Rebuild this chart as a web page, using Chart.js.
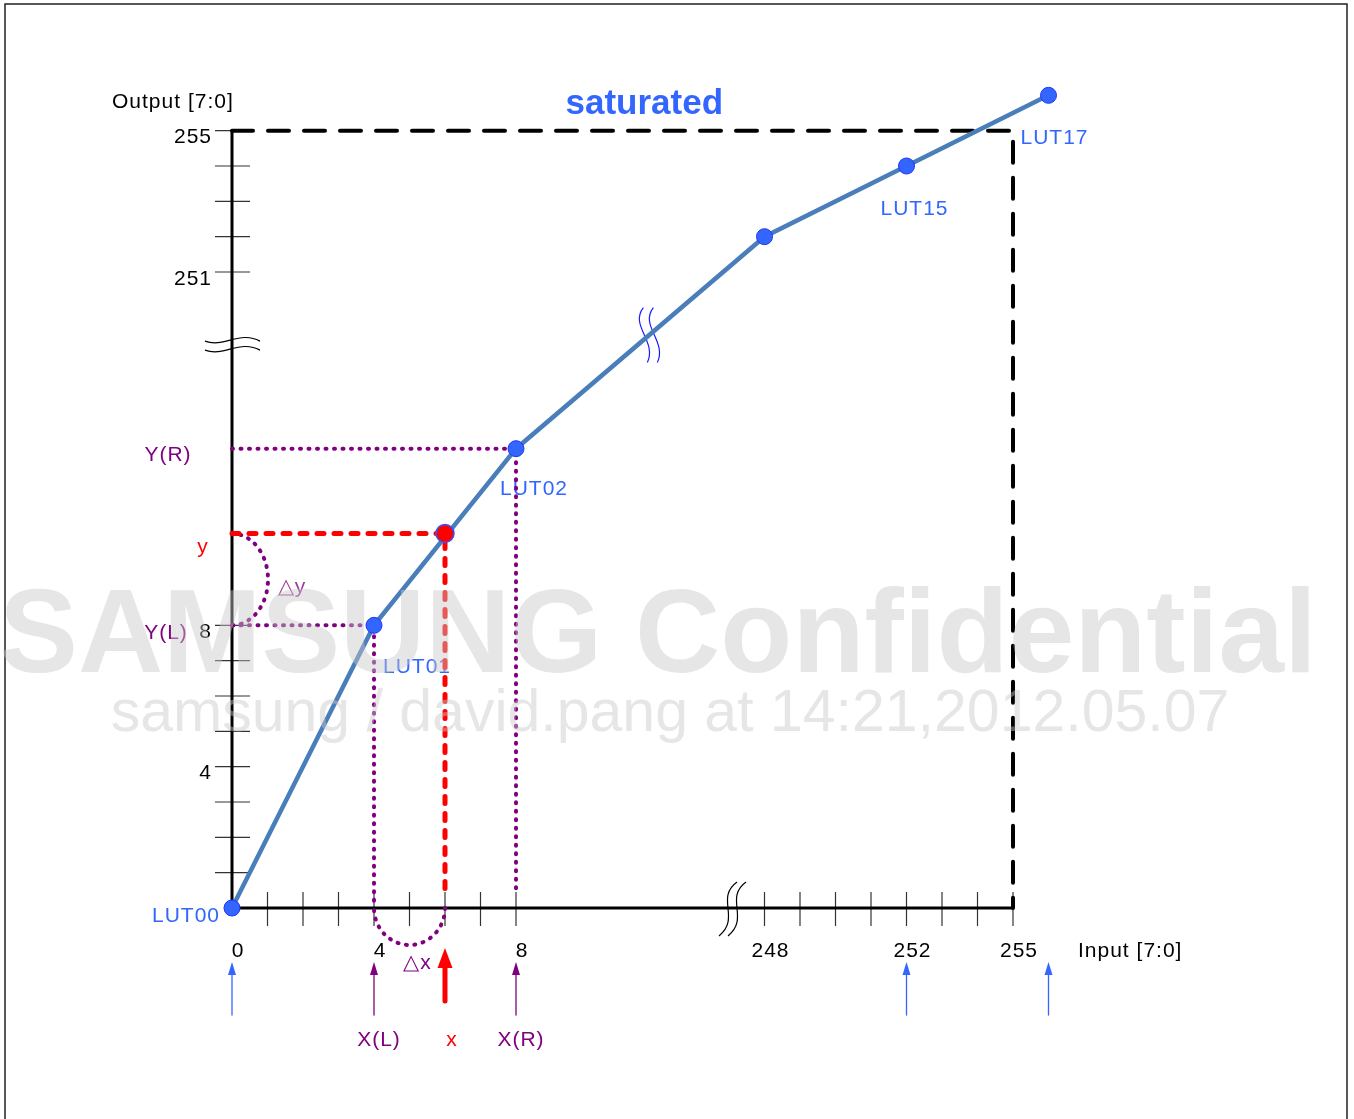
<!DOCTYPE html>
<html>
<head>
<meta charset="utf-8">
<script src="https://cdn.jsdelivr.net/npm/chart.js@4"></script>
<style>
  html, body { margin: 0; padding: 0; background: #fff; overflow: hidden; }
  #wrap { position: relative; width: 1354px; height: 1119px; }
</style>
</head>
<body>
<div id="wrap"><canvas id="chart1"></canvas></div>
<script>
// LUT knots (input code -> output code)
const lutInputs  = [0, 4, 8, 248, 252, 256];
const lutOutputs = [0, 8, 13, 252, 254, 256];
const lutNames   = ['LUT00', 'LUT01', 'LUT02', '', 'LUT15', 'LUT17'];

// the sample x that gets interpolated between LUT01 and LUT02
const sampleInput  = [6];
const sampleOutput = [10.6];

// saturation box corners
const satBoxInputs  = [0, 255, 255];
const satBoxOutputs = [255, 255, 0];

// axis ticks
const xTickValues = [1, 2, 3, 4, 5, 6, 7, 8, 248, 249, 250, 251, 252, 253, 254, 255];
const xTickLabels = [0, 4, 8, 248, 252, 255];
const yTickValues = [1, 2, 3, 4, 5, 6, 7, 8, 251, 252, 253, 254, 255];
const yTickLabels = [4, 8, 251, 255];

// arrows under the input axis
const blueArrowInputs   = [0, 252, 256];
const purpleArrowInputs = [4, 8];

// broken axes: codes above 100 are shifted down so both ends fit
const slot = v => (v > 100 ? v - 233 : v);
const toPts = (xs, ys) => xs.map((v, i) => ({ x: slot(v), y: slot(ys[i]) }));

const FONT = '"Liberation Sans", Arial, sans-serif';
const BLUE = '#3366ff', PURPLE = '#800080', RED = '#ff0000';
const DOTS = [1, 7.5];

// label offsets for LUT names [dx, dy, align]
const lutLabelPos = [[-12, 8, 'right'], [9, 42, 'left'], [-16, 41, 'left'], null, [-26, 43, 'left'], [-28, 43, 'left']];

function txt(ctx, s, x, y, color, align, font, spacing) {
  ctx.font = font || ('21px ' + FONT);
  ctx.letterSpacing = spacing || '1px';
  ctx.fillStyle = color;
  ctx.textAlign = align || 'center';
  ctx.textBaseline = 'middle';
  ctx.fillText(s, x, y);
}

function arrow(ctx, x, tip, bottom, color, w, headW, headL) {
  ctx.strokeStyle = color;
  ctx.fillStyle = color;
  ctx.lineWidth = w;
  ctx.setLineDash([]);
  ctx.beginPath();
  ctx.moveTo(x, bottom);
  ctx.lineTo(x, tip + headL - 1);
  ctx.stroke();
  ctx.beginPath();
  ctx.moveTo(x, tip);
  ctx.lineTo(x - headW / 2, tip + headL);
  ctx.lineTo(x + headW / 2, tip + headL);
  ctx.closePath();
  ctx.fill();
}

const decor = {
  id: 'decor',
  beforeDatasetsDraw(chart) {
    const ctx = chart.ctx;
    const sx = chart.scales.x, sy = chart.scales.y;
    const X = v => sx.getPixelForValue(slot(v));
    const Y = v => sy.getPixelForValue(slot(v));
    const X0 = X(0), Y0 = Y(0);
    ctx.save();

    // outer frame
    ctx.strokeStyle = '#222';
    ctx.lineWidth = 1.5;
    ctx.strokeRect(5, 4, 1342, 1130);

    // ticks
    ctx.strokeStyle = '#333';
    ctx.lineWidth = 1.2;
    xTickValues.forEach(v => {
      ctx.beginPath(); ctx.moveTo(X(v), Y0 - 16); ctx.lineTo(X(v), Y0 + 18); ctx.stroke();
    });
    yTickValues.forEach(v => {
      ctx.beginPath(); ctx.moveTo(X0 - 17, Y(v)); ctx.lineTo(X0 + 18, Y(v)); ctx.stroke();
    });

    // axes
    ctx.strokeStyle = '#000';
    ctx.lineWidth = 3;
    ctx.beginPath();
    ctx.moveTo(X0, Y(255)); ctx.lineTo(X0, Y0); ctx.lineTo(X(255), Y0);
    ctx.stroke();

    // axis break marks
    ctx.lineWidth = 1.2;
    const yb = sy.getPixelForValue(16.1);
    [0, 9].forEach(o => {
      ctx.beginPath();
      ctx.moveTo(X0 - 27, yb + o + 2);
      ctx.bezierCurveTo(X0 - 8, yb + o + 9, X0 + 8, yb + o - 9, X0 + 28, yb + o + 2);
      ctx.stroke();
    });
    const xb = sx.getPixelForValue(14.0);
    [0, 9].forEach(o => {
      ctx.beginPath();
      ctx.moveTo(xb + o + 8, Y0 - 26);
      ctx.bezierCurveTo(xb + o - 14, Y0 - 10, xb + o + 12, Y0 + 10, xb + o - 10, Y0 + 28);
      ctx.stroke();
    });
    // break on the curve
    ctx.strokeStyle = '#1a1aff';
    const cx = sx.getPixelForValue(11.7), cy = sy.getPixelForValue(16.2);
    [0, 10].forEach(o => {
      ctx.beginPath();
      ctx.moveTo(cx + o - 4, cy - 28);
      ctx.bezierCurveTo(cx + o - 18, cy - 10, cx + o + 10, cy + 6, cx + o, cy + 27);
      ctx.stroke();
    });

    // delta arcs
    ctx.strokeStyle = PURPLE;
    ctx.lineWidth = 4;
    ctx.lineCap = 'round';
    ctx.setLineDash(DOTS);
    const yl = Y(lutOutputs[1]), ys = Y(sampleOutput[0]);
    ctx.beginPath();
    ctx.ellipse(X0, (yl + ys) / 2, 36, (yl - ys) / 2, 0, -Math.PI / 2, Math.PI / 2);
    ctx.stroke();
    const xl = X(lutInputs[1]), xsm = X(sampleInput[0]);
    ctx.beginPath();
    ctx.ellipse((xl + xsm) / 2, Y0, (xsm - xl) / 2, 37, 0, 0, Math.PI);
    ctx.stroke();
    ctx.setLineDash([]);

    // text
    txt(ctx, 'saturated', (X0 + X(256)) / 2 + 4, Y(255) - 26, BLUE, 'center', 'bold 35px ' + FONT, '0px');
    txt(ctx, 'Output [7:0]', X0 - 120, Y(255) - 28, '#000', 'left');
    txt(ctx, 'Input [7:0]', X(255) + 65, Y0 + 43, '#000', 'left');
    yTickLabels.forEach(v => txt(ctx, String(v), X0 - 20, Y(v) + 7, '#000', 'right'));
    xTickLabels.forEach(v => txt(ctx, String(v), X(v) + 6, Y0 + 43, '#000', 'center'));
    lutNames.forEach((n, i) => {
      if (!n) return;
      const p = lutLabelPos[i];
      txt(ctx, n, X(lutInputs[i]) + p[0], Y(lutOutputs[i]) + p[1], BLUE, p[2]);
    });
    txt(ctx, 'Y(R)', X0 - 64, Y(lutOutputs[2]) + 7, PURPLE);
    txt(ctx, 'y', X0 - 29, ys + 14, RED);
    txt(ctx, 'Y(L)', X0 - 66, yl + 8, PURPLE);
    txt(ctx, '\u25B3y', X0 + 60, (yl + ys) / 2 + 8, '#9a3d9a');
    txt(ctx, '\u25B3x', (xl + xsm) / 2 + 8, Y0 + 55, PURPLE);
    txt(ctx, 'X(L)', xl + 5, Y0 + 132, PURPLE);
    txt(ctx, 'x', xsm + 7, Y0 + 132, RED);
    txt(ctx, 'X(R)', X(lutInputs[2]) + 5, Y0 + 132, PURPLE);

    // arrows
    blueArrowInputs.forEach(v => arrow(ctx, X(v), Y0 + 54, Y0 + 107, BLUE, 1.3, 8, 13));
    purpleArrowInputs.forEach(v => arrow(ctx, X(v), Y0 + 54, Y0 + 107, PURPLE, 1.3, 8, 13));
    arrow(ctx, xsm, Y0 + 40, Y0 + 93, RED, 5, 15, 20);

    ctx.restore();
  },
  afterDraw(chart) {
    const ctx = chart.ctx;
    ctx.save();
    ctx.fillStyle = 'rgba(200,200,200,0.45)';
    ctx.textAlign = 'center';
    ctx.textBaseline = 'alphabetic';
    ctx.font = 'bold 118px ' + FONT;
    ctx.fillText('SAMSUNG Confidential', 658, 672);
    ctx.font = '59px ' + FONT;
    ctx.fillText('samsung / david.pang at 14:21,2012.05.07', 670, 731);
    ctx.restore();
  }
};

const guide = (xs, ys, color, width, dash, order) => ({
  data: toPts(xs, ys), showLine: true, borderColor: color, borderWidth: width,
  borderDash: dash, borderCapStyle: 'round', pointRadius: 0, order: order, clip: false
});

new Chart(document.getElementById('chart1'), {
  type: 'scatter',
  data: {
    datasets: [
      { // LUT curve
        data: toPts(lutInputs, lutOutputs), showLine: true,
        borderColor: '#4a7ebb', borderWidth: 4.5,
        pointRadius: 8, pointBackgroundColor: BLUE, pointBorderColor: '#2233ff', pointBorderWidth: 1,
        order: 1, clip: false
      },
      { // interpolated sample
        data: toPts(sampleInput, sampleOutput),
        pointRadius: 9, pointBackgroundColor: RED, pointBorderColor: '#3355ff', pointBorderWidth: 1.5,
        order: 0, clip: false
      },
      guide([0, sampleInput[0], sampleInput[0]], [sampleOutput[0], sampleOutput[0], 0.45], RED, 5, [7, 10], 2),
      guide([0, lutInputs[1], lutInputs[1]], [lutOutputs[1], lutOutputs[1], 0], PURPLE, 4, DOTS, 3),
      guide([0, lutInputs[2], lutInputs[2]], [lutOutputs[2], lutOutputs[2], 0.45], PURPLE, 4, DOTS, 3),
      guide(satBoxInputs, satBoxOutputs, '#000', 4, [21, 15], 4)
    ]
  },
  options: {
    responsive: true,
    maintainAspectRatio: false,
    animation: false,
    layout: { padding: { left: 232, right: 270, top: 60, bottom: 211 } },
    scales: {
      x: { type: 'linear', min: 0, max: 24, display: false },
      y: { type: 'linear', min: 0, max: 24, display: false }
    },
    plugins: { legend: { display: false }, tooltip: { enabled: false } }
  },
  plugins: [decor]
});
</script>
</body>
</html>
